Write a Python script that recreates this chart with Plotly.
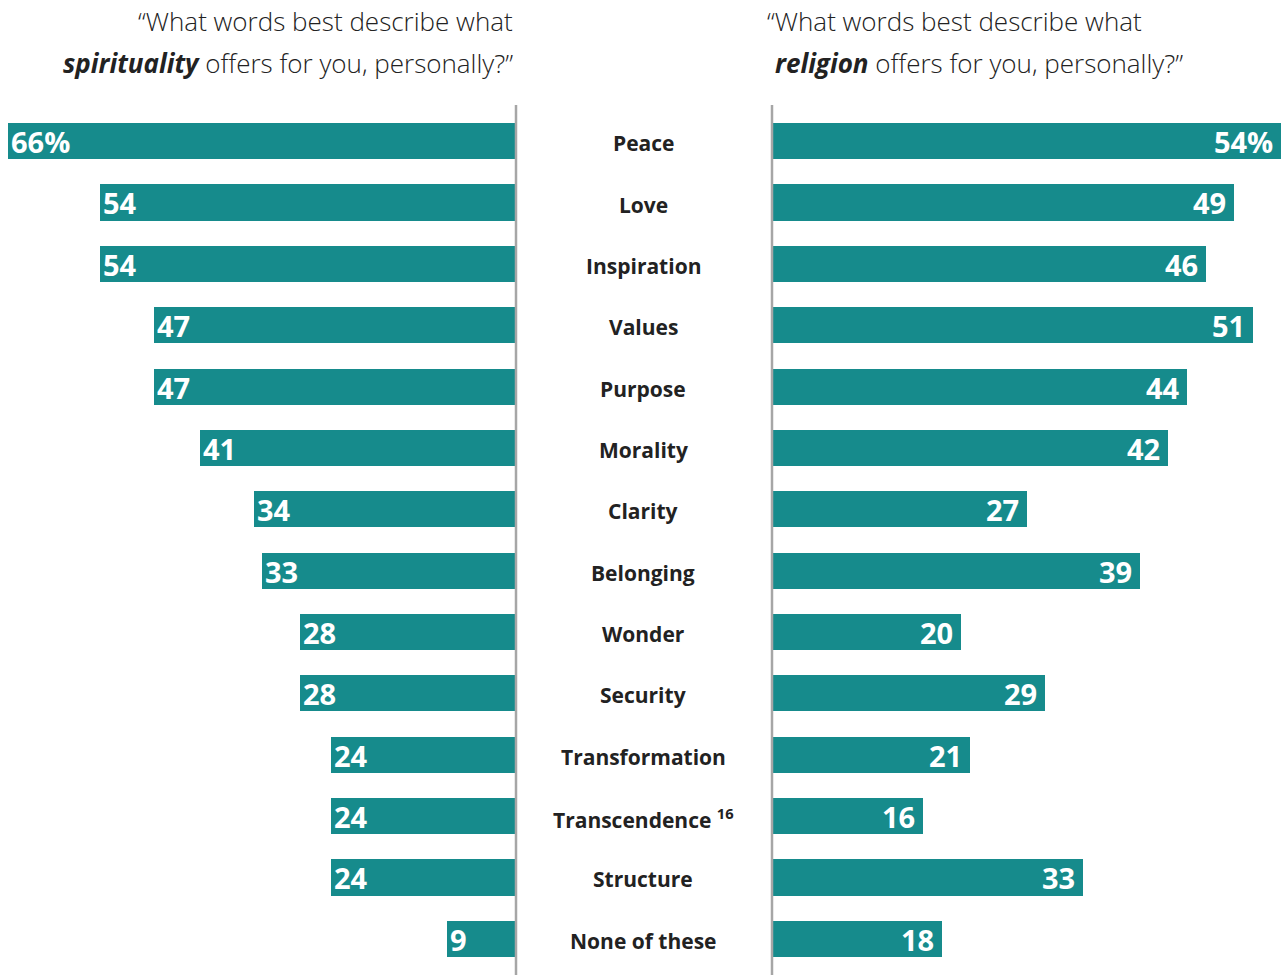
import plotly.graph_objects as go
from plotly.subplots import make_subplots

# ── Data ──────────────────────────────────────────────────────────────────────
WORDS = ["Peace", "Love", "Inspiration", "Values", "Purpose", "Morality",
         "Clarity", "Belonging", "Wonder", "Security", "Transformation",
         "Transcendence", "Structure", "None of these"]
SPIRITUALITY = [66, 54, 54, 47, 47, 41, 34, 33, 28, 28, 24, 24, 24, 9]
RELIGION = [54, 49, 46, 51, 44, 42, 27, 39, 20, 29, 21, 16, 33, 18]
WORD_LABELS = [w if w != "Transcendence" else "Transcendence <sup>16</sup>" for w in WORDS]

TEAL = "#168B8C"
W, H = 1282, 975


def px(x):
    return x / W


def py(y):
    return 1 - y / H


def bar_text(vals, side):
    out = []
    for i, v in enumerate(vals):
        s = f"{v}%" if i == 0 else str(v)
        out.append(s if side == "left" else s + "\u2009")
    return out


fig = make_subplots(rows=1, cols=2, shared_yaxes=False, horizontal_spacing=0)

bar_font = dict(family="Open Sans", size=29, color="white", weight="bold")
for col, vals, side in ((1, SPIRITUALITY, "left"), (2, RELIGION, "right")):
    fig.add_trace(go.Bar(
        x=vals, y=WORDS, orientation="h",
        marker=dict(color=TEAL, line_width=0), width=0.59,
        text=bar_text(vals, side), textposition="inside", insidetextanchor="end",
        textangle=0, constraintext="none", textfont=bar_font,
        hoverinfo="skip",
    ), row=1, col=col)

# axis geometry (pixel-derived)
left_edge = 516
right_edge = 772
top = 105

fig.update_xaxes(domain=[0, px(left_edge)],
                 range=[left_edge / (508 / 66), 0],
                 visible=False, row=1, col=1)
fig.update_xaxes(domain=[px(right_edge), 1],
                 range=[0, (W - right_edge) / (509 / 54)],
                 visible=False, row=1, col=2)
for c in (1, 2):
    fig.update_yaxes(domain=[0, py(top)], range=[13.59, -0.59],
                     showticklabels=False, showgrid=False, zeroline=False,
                     showline=False, row=1, col=c)

# vertical baselines
for xx in (left_edge, right_edge):
    fig.add_shape(type="line", xref="paper", yref="paper",
                  x0=px(xx), x1=px(xx), y0=0, y1=py(top),
                  line=dict(color="#A6A6A6", width=2.5))

# centre labels
for w, lab in zip(WORDS, WORD_LABELS):
    fig.add_annotation(x=px(643), xref="paper", y=w, yref="y",
                       text=f"<b>{lab}</b>", showarrow=False, yshift=-2,
                       font=dict(family="Open Sans", size=21, color="#222222"))

# headings
title_font = dict(family="Open Sans", size=26, color="#222222", weight=300)
fig.add_annotation(x=px(515), y=py(21), xref="paper", yref="paper",
                   xanchor="right", yanchor="middle", showarrow=False,
                   text="\u201cWhat words best describe what", font=title_font)
fig.add_annotation(x=px(515), y=py(63), xref="paper", yref="paper",
                   xanchor="right", yanchor="middle", showarrow=False,
                   text="<b><i>spirituality</i></b> offers for you, personally?\u201d",
                   font=title_font)
fig.add_annotation(x=px(765), y=py(21), xref="paper", yref="paper",
                   xanchor="left", yanchor="middle", showarrow=False,
                   text="\u201cWhat words best describe what", font=title_font)
fig.add_annotation(x=px(773), y=py(63), xref="paper", yref="paper",
                   xanchor="left", yanchor="middle", showarrow=False,
                   text="<b><i>religion</i></b> offers for you, personally?\u201d",
                   font=title_font)

fig.update_layout(
    width=W, height=H,
    margin=dict(l=0, r=0, t=0, b=0),
    plot_bgcolor="white", paper_bgcolor="white",
    showlegend=False, bargap=0,
)

# drop the default 8px body margin so the figure fills the window
fig.write_html("out.html", config={"displayModeBar": False},
               post_script="document.body.style.margin = '0';")
